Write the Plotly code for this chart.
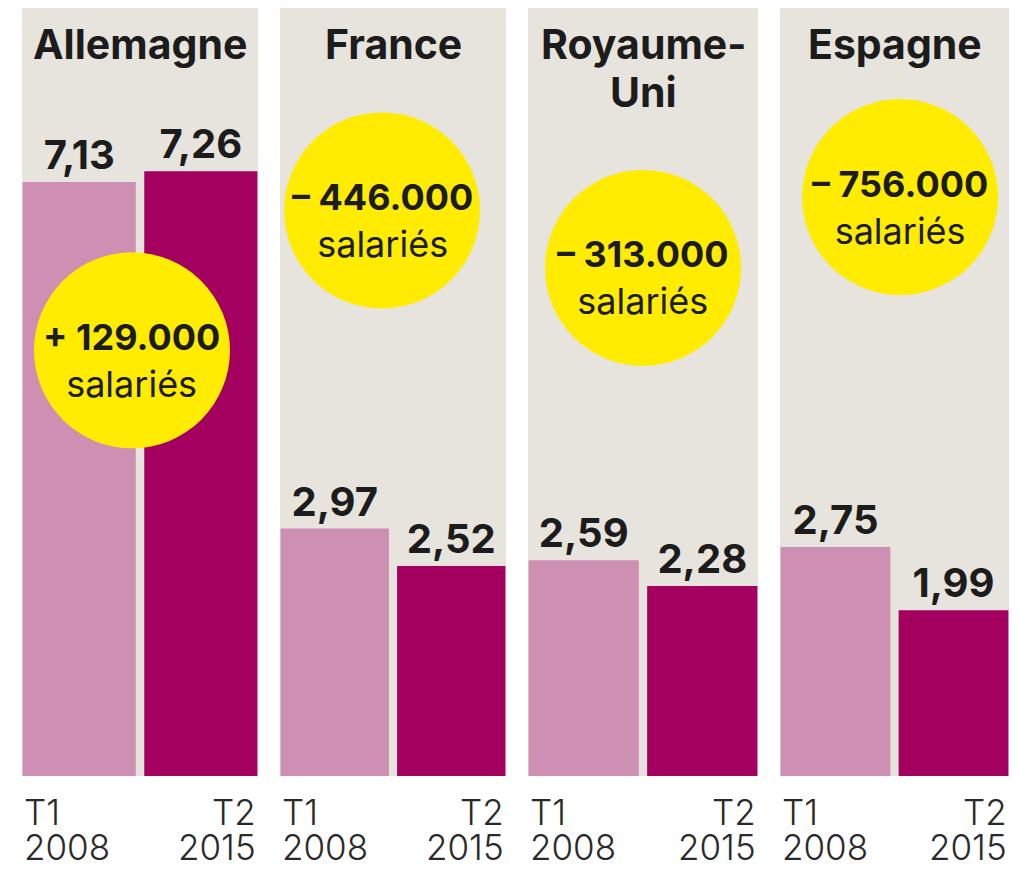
import plotly.graph_objects as go

# ---------------- data ----------------
countries = ["Allemagne", "France", "Royaume-<br>Uni", "Espagne"]
t1_2008 = [7.13, 2.97, 2.59, 2.75]
t2_2015 = [7.26, 2.52, 2.28, 1.99]
changes = ["+ 129.000", "– 446.000", "– 313.000", "– 756.000"]
unit_label = "salariés"
period_labels = ["T1<br>2008", "T2<br>2015"]

# ---------------- layout / style constants ----------------
PAGE_W, PAGE_H = 1019, 869
OFF = 8                      # default page (body) margin of the html page
W, H = PAGE_W - OFF, PAGE_H - OFF
panel_px = [(22, 258), (280, 506), (528, 758), (780, 1009)]
plot_top_px, plot_bottom_px = 8, 776
y_max = 9.22
x_range = [-0.47, 1.47]
bar_width = 0.93
bubble_x = [0.434, 0.406, 0.5, 0.547]
bubble_y = [5.11, 6.79, 6.10, 6.95]
bubble_diam = 196
title_center_px = 44
title_line_px = 48
tick_center_px = 812
tick_line_px = 35


def px_x(p):
    return (p - OFF) / W


def px_y(p):
    return 1 - (p - OFF) / H


LIGHT = "#cd8fb2"
DARK = "#a3005f"
BG = "#e6e4dc"
YELLOW = "#ffec00"
INK = "#1c1c1c"
FONT = "Inter, Liberation Sans, Arial, sans-serif"

fig = go.Figure()
annotations = []
layout_axes = {}

for i in range(4):
    n = "" if i == 0 else str(i + 1)
    xa, ya = f"x{n}", f"y{n}"
    x0, x1 = panel_px[i]
    layout_axes[f"xaxis{n}"] = dict(
        domain=[px_x(x0), px_x(x1)], range=x_range, visible=False,
        anchor=ya, fixedrange=True)
    layout_axes[f"yaxis{n}"] = dict(
        domain=[px_y(plot_bottom_px), px_y(plot_top_px)],
        range=[0, y_max], visible=False, anchor=xa, fixedrange=True)

    vals = [t1_2008[i], t2_2015[i]]
    fig.add_trace(go.Bar(
        x=[0, 1], y=vals, width=bar_width,
        marker=dict(color=[LIGHT, DARK], line=dict(width=0)),
        text=[f"{v:.2f}".replace(".", ",") for v in vals],
        textposition="outside", constraintext="none", cliponaxis=False,
        textfont=dict(family=FONT, size=40, color=INK, weight="bold"),
        xaxis=xa, yaxis=ya, showlegend=False, hoverinfo="skip"))

    fig.add_trace(go.Scatter(
        x=[bubble_x[i]], y=[bubble_y[i]], mode="markers",
        marker=dict(size=bubble_diam, color=YELLOW, line=dict(width=0)),
        cliponaxis=False, xaxis=xa, yaxis=ya, showlegend=False,
        hoverinfo="skip"))

    annotations.append(dict(
        text=f"<b>{changes[i]}</b><br>{unit_label}",
        x=bubble_x[i], y=bubble_y[i], xref=xa, yref=ya,
        showarrow=False, yshift=-10,
        font=dict(family=FONT, size=36, color=INK)))

    # country title (one annotation per line)
    for k, line in enumerate(countries[i].split("<br>")):
        annotations.append(dict(
            text=line, x=0.5, xref=f"{xa} domain",
            y=px_y(title_center_px + k * title_line_px), yref="paper",
            yanchor="middle", showarrow=False,
            font=dict(family=FONT, size=41, color=INK, weight="bold")))

    # period labels under the bars
    for j, lab in enumerate(period_labels):
        for k, line in enumerate(lab.split("<br>")):
            annotations.append(dict(
                text=line, x=0 if j == 0 else 1, xref=f"{xa} domain",
                xanchor="left" if j == 0 else "right",
                y=px_y(tick_center_px + k * tick_line_px), yref="paper",
                yanchor="middle", showarrow=False,
                font=dict(family=FONT, size=35, color="#2a2a2a", weight=300)))

fig.update_layout(
    width=W, height=H,
    margin=dict(l=0, r=0, t=0, b=0),
    paper_bgcolor="white", plot_bgcolor=BG,
    annotations=annotations,
    **layout_axes)

fig.write_html("out.html")
